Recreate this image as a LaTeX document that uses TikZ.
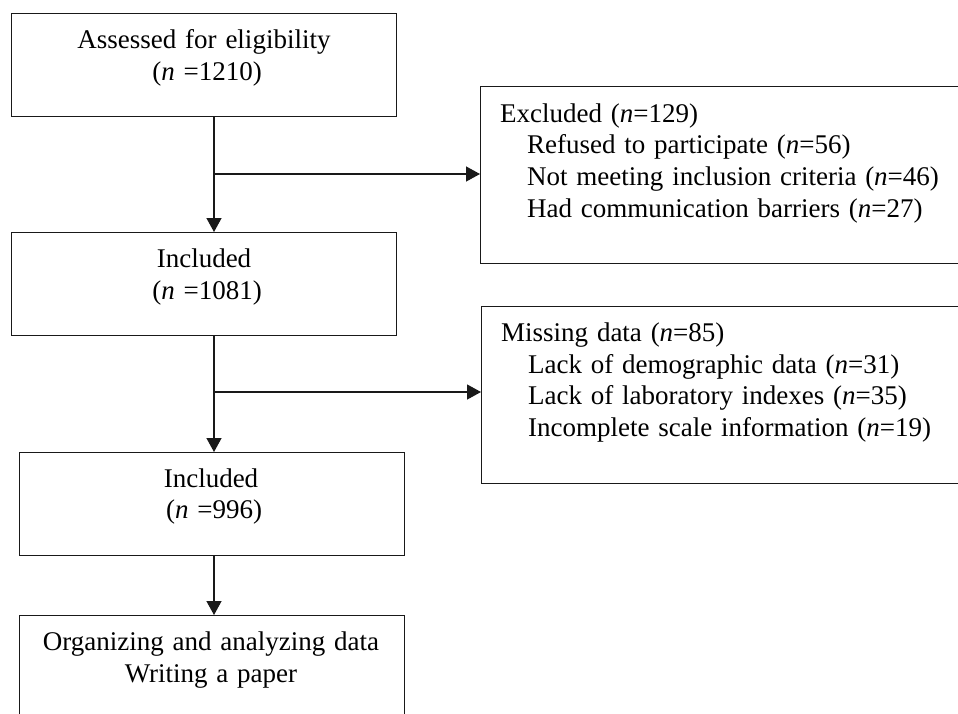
\documentclass[tikz,border=0pt]{standalone}
\usepackage{fontspec}
\setmainfont[WordSpace=1.3]{Liberation Serif}
\usetikzlibrary{arrows.meta}
\begin{document}
\begin{tikzpicture}[x=1pt,y=-1pt,
  box/.style={draw=black!90, line width=1.3pt, rectangle, anchor=north west, inner sep=0pt},
  txt/.style={font=\fontsize{27}{32}\selectfont, inner sep=0pt, anchor=base},
  ltxt/.style={txt, anchor=base west},
  arr/.style={draw=black!90, line width=1.3pt, -{Triangle[width=15pt,length=14pt]}}]
\clip (0,0) rectangle (958,713);
\fill[white] (0,0) rectangle (958,713);
% boxes
\node[box, minimum width=385pt, minimum height=103pt] (b1) at (11,13) {};
\node[box, minimum width=385pt, minimum height=103pt] (b2) at (11,232) {};
\node[box, minimum width=385pt, minimum height=103pt] (b3) at (19,452) {};
\node[box, minimum width=385pt, minimum height=130pt] (b4) at (19,615) {};
\node[box, minimum width=520pt, minimum height=177pt] (ex) at (480,86) {};
\node[box, minimum width=520pt, minimum height=177pt] (mi) at (481,306) {};
% texts
\node[txt] (t1a) at (204,48) {Assessed for eligibility};
\node[txt] (t1b) at (207,80) {(\textit{n} =1210)};
\node[txt] (t2a) at (204,267) {Included};
\node[txt] (t2b) at (207,299) {(\textit{n} =1081)};
\node[txt] (t3a) at (211,487) {Included};
\node[txt] (t3b) at (214,518) {(\textit{n} =996)};
\node[txt] (t4a) at (211,650) {Organizing and analyzing data};
\node[txt] (t4b) at (211,682) {Writing a paper};
\node[ltxt] (e0) at (500,122) {Excluded (\textit{n}=129)};
\node[ltxt] (e1) at (527,153) {Refused to participate (\textit{n}=56)};
\node[ltxt] (e2) at (527,185) {Not meeting inclusion criteria (\textit{n}=46)};
\node[ltxt] (e3) at (527,217) {Had communication barriers (\textit{n}=27)};
\node[ltxt] (m0) at (501,341) {Missing data (\textit{n}=85)};
\node[ltxt] (m1) at (528,373) {Lack of demographic data (\textit{n}=31)};
\node[ltxt] (m2) at (528,404) {Lack of laboratory indexes (\textit{n}=35)};
\node[ltxt] (m3) at (528,436) {Incomplete scale information (\textit{n}=19)};
% connectors
\coordinate (ax) at (214,0);
\coordinate (j1) at (214,174);
\coordinate (j2) at (214,392);
\draw[arr] (b1.south -| ax) -- (b2.north -| ax);
\draw[arr] (j1) -- (j1 -| ex.west);
\draw[arr] (b2.south -| ax) -- (b3.north -| ax);
\draw[arr] (j2) -- (j2 -| mi.west);
\draw[arr] (b3.south -| ax) -- (b4.north -| ax);
\end{tikzpicture}
\end{document}
